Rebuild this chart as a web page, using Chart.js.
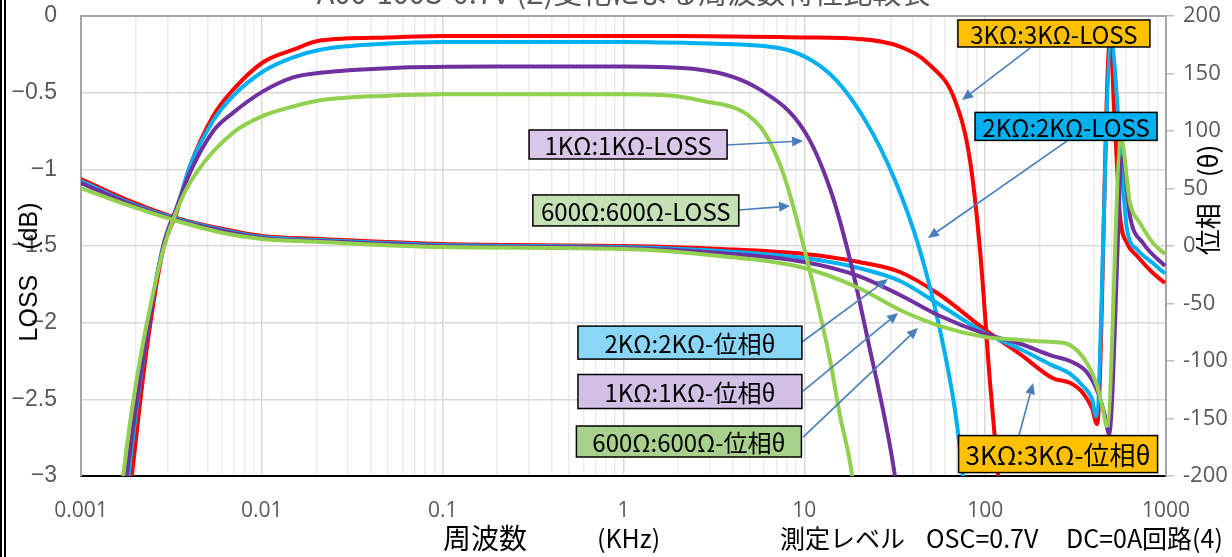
<!DOCTYPE html>
<html lang="ja">
<head>
<meta charset="utf-8">
<title>周波数特性比較表</title>
<script src="https://cdn.jsdelivr.net/npm/chart.js@4.4.1/dist/chart.umd.min.js"></script>
<style>
  html, body { margin: 0; padding: 0; background: #fff; }
  #wrap { width: 1232px; height: 557px; position: relative; }
</style>
</head>
<body>
<div id="wrap"><canvas id="freqChart"></canvas></div>
<script>
// frequency in kHz, LOSS in dB, phase in degrees
const loss600 = [[0.00165,-3.2],[0.00171,-3],[0.00273,-1.61],[0.00352,-1.22],[0.00436,-1.02],[0.00695,-0.76],[0.0102,-0.65],[0.0149,-0.59],[0.021,-0.55],[0.05,-0.52],[0.1,-0.51],[1,-0.51],[2.65,-0.55],[5.69,-0.72],[7.34,-0.97],[8.34,-1.17],[10.7,-1.66],[13.9,-2.25],[15.7,-2.6],[18.4,-3],[19.5,-3.3]];
const loss1k = [[0.00172,-3.2],[0.00179,-3],[0.0023,-2.1],[0.00285,-1.5],[0.0034,-1.24],[0.00401,-1.02],[0.00539,-0.75],[0.00695,-0.63],[0.0102,-0.49],[0.0149,-0.40],[0.021,-0.37],[0.05,-0.34],[0.2,-0.33],[1,-0.33],[2.65,-0.35],[5.69,-0.48],[10,-0.75],[13.9,-1.13],[17.9,-1.59],[23.1,-2.18],[27.9,-2.63],[31.7,-3],[34,-3.3]];
const loss2k = [[0.00176,-3.2],[0.00183,-3],[0.0023,-2.1],[0.00285,-1.5],[0.0034,-1.25],[0.004,-0.98],[0.0054,-0.68],[0.00695,-0.52],[0.0102,-0.36],[0.0149,-0.27],[0.021,-0.22],[0.05,-0.18],[0.1,-0.17],[1,-0.17],[3,-0.18],[7.34,-0.21],[13.9,-0.38],[21.7,-0.68],[31.7,-1.07],[43.6,-1.53],[56.3,-2.05],[68.1,-2.57],[75.4,-3],[80,-3.3]];
const loss3k = [[0.00183,-3.2],[0.00191,-3],[0.00231,-2.17],[0.00285,-1.52],[0.00338,-1.28],[0.00401,-0.98],[0.00539,-0.65],[0.00695,-0.48],[0.0102,-0.30],[0.0149,-0.22],[0.021,-0.16],[0.05,-0.14],[0.1,-0.13],[0.5,-0.13],[2,-0.13],[10,-0.14],[20,-0.15],[33.8,-0.2],[49.5,-0.32],[68.1,-0.55],[82.4,-0.94],[93.7,-1.53],[106,-2.37],[118,-3],[125,-3.3]];

const phase600 = [[0.001,50.4],[0.00187,34.8],[0.0034,21.7],[0.0061,11.3],[0.01,6.1],[0.021,3.5],[0.1,-0.9],[1,-2.6],[3.42,-8.7],[10,-19.1],[20,-36.5],[33.8,-55.7],[56.3,-69.6],[100,-79.1],[156,-81.7],[237,-83.5],[284,-85],[366,-102],[416,-122],[443,-139],[472,-156.5],[564,93],[632,37.4],[718,20],[847,2.6],[988,-7]];
const phase1k = [[0.001,54.8],[0.00187,36.5],[0.0034,22.6],[0.0061,13],[0.01,7],[0.021,4.3],[0.1,0],[1,-1.7],[3.42,-6.1],[10,-13.9],[20,-26.1],[33.8,-42.6],[56.3,-60.9],[100,-76.5],[156,-85],[237,-95.7],[294,-100],[366,-110],[422,-128],[460,-148],[484,-163.5],[578,78],[632,26],[746,2.6],[988,-17.4]];
const phase2k = [[0.001,56.5],[0.00187,37.4],[0.0034,23.5],[0.0061,13.9],[0.01,7.8],[0.021,5.2],[0.1,0.9],[1,-0.9],[3.42,-4.3],[10,-10.4],[20,-19.1],[33.8,-30.4],[56.3,-51.3],[100,-75.7],[156,-89.6],[237,-104],[294,-111],[348,-122],[390,-133],[410,-148],[497,177],[557,90],[608,15],[692,-3],[847,-15],[988,-24]];
const phase3k = [[0.001,58.3],[0.00187,39.1],[0.0034,24.3],[0.0061,14.8],[0.01,8.7],[0.021,6.1],[0.1,1.7],[1,0],[3.42,-2.6],[10,-7],[20,-13.9],[33.8,-22.6],[56.3,-42.6],[100,-73],[156,-94],[237,-115],[294,-119],[348,-128],[390,-141],[416,-155],[490,180],[522,104],[557,26],[608,2.6],[692,-8.7],[847,-23.5],[988,-32.2]];

const decades = [0.001, 0.01, 0.1, 1, 10, 100, 1000];
const lossTicks = [0, -0.5, -1, -1.5, -2, -2.5, -3];
const phaseTicks = [200, 150, 100, 50, 0, -50, -100, -150, -200];

const RED = "#ff0000", CYAN = "#00b0f0", PURPLE = "#7030a0", GREEN = "#92d050";

// callout boxes: centre and arrow given in kHz / dB
const callouts = [
    { text: "3KΩ:3KΩ-LOSS", fill: "#ffc000", f: 240, db: -0.114, w: 192, h: 27, size: 24, from: [177, -0.209], to: [74.5, -0.548] },
    { text: "2KΩ:2KΩ-LOSS", fill: "#00b0f0", f: 280, db: -0.72, w: 182, h: 28, size: 24, from: [284, -0.815], to: [48.3, -1.448] },
    { text: "1KΩ:1KΩ-LOSS", fill: "#d9c6e8", f: 1.06, db: -0.838, w: 198, h: 29, size: 24, from: [3.74, -0.841], to: [9.84, -0.815] },
    { text: "600Ω:600Ω-LOSS", fill: "#c5e0b4", f: 1.17, db: -1.268, w: 206, h: 31, size: 24, from: [4.35, -1.265], to: [8.34, -1.239] },
    { text: "2KΩ:2KΩ-位相θ", fill: "#8ad6f6", f: 2.33, db: -2.13, w: 224, h: 33, size: 24, from: [9.71, -2.126], to: [29.0, -1.715] },
    { text: "1KΩ:1KΩ-位相θ", fill: "#d3c0e6", f: 2.33, db: -2.449, w: 224, h: 34, size: 24, from: [9.84, -2.446], to: [33.0, -1.937] },
    { text: "600Ω:600Ω-位相θ", fill: "#a9d18e", f: 2.30, db: -2.775, w: 225, h: 31, size: 24, from: [9.84, -2.746], to: [42.5, -2.035] },
    { text: "3KΩ:3KΩ-位相θ", fill: "#ffc000", f: 253, db: -2.857, w: 199, h: 37, size: 26, from: [154, -2.733], to: [184, -2.394] }
];

function toXY(pairs) {
    return pairs.map(p => ({ x: p[0], y: p[1] }));
}

function isDecade(v) {
    const l = Math.log10(v);
    return Math.abs(l - Math.round(l)) < 1e-6;
}

function fmtDecade(v) {
    const e = Math.round(Math.log10(v));
    return e < 0 ? v.toFixed(-e) : String(Math.round(v));
}

// 1..9 x 10^n ticks like a spreadsheet log axis
const logTicks = [];
for (let i = 0; i < decades.length - 1; i++) {
    for (let m = 1; m <= 9; m++) {
        logTicks.push(Number((m * decades[i]).toPrecision(6)));
    }
}
logTicks.push(decades[decades.length - 1]);

function line(label, pairs, color, axis) {
    return {
        label: label,
        data: toXY(pairs),
        yAxisID: axis,
        borderColor: color,
        backgroundColor: color,
        borderWidth: 4,
        pointRadius: 0,
        fill: false,
        cubicInterpolationMode: "monotone"
    };
}

// drop the automatic half-label padding so the plot area lands where it should
function noPad(scale) {
    scale.paddingTop = 0;
    scale.paddingBottom = 0;
    scale.paddingLeft = 0;
    scale.paddingRight = 0;
}

function drawArrow(ctx, x1, y1, x2, y2) {
    const ang = Math.atan2(y2 - y1, x2 - x1);
    const len = 11, half = 5;
    const bx = x2 - len * Math.cos(ang), by = y2 - len * Math.sin(ang);
    ctx.strokeStyle = "#4a7ebb";
    ctx.fillStyle = "#4a7ebb";
    ctx.lineWidth = 1.6;
    ctx.beginPath();
    ctx.moveTo(x1, y1);
    ctx.lineTo(bx, by);
    ctx.stroke();
    ctx.beginPath();
    ctx.moveTo(x2, y2);
    ctx.lineTo(bx + half * Math.sin(ang), by - half * Math.cos(ang));
    ctx.lineTo(bx - half * Math.sin(ang), by + half * Math.cos(ang));
    ctx.closePath();
    ctx.fill();
}

const decorPlugin = {
    id: "decor",
    beforeDraw(chart) {
        const ctx = chart.ctx;
        ctx.save();
        ctx.fillStyle = "#fff";
        ctx.fillRect(0, 0, chart.width, chart.height);
        // frame at the left edge
        ctx.fillStyle = "#000";
        ctx.fillRect(0, 0, 2, chart.height);
        ctx.fillRect(4, 0, 2, chart.height);
        ctx.restore();
    },
    beforeDatasetsDraw(chart) {
        const ctx = chart.ctx, a = chart.chartArea;
        ctx.save();
        ctx.strokeStyle = "#a6a6a6";
        ctx.lineWidth = 2;
        ctx.beginPath();
        ctx.moveTo(a.left, a.bottom);
        ctx.lineTo(a.left, a.top);
        ctx.lineTo(a.right, a.top);
        ctx.lineTo(a.right, a.bottom);
        ctx.stroke();
        ctx.restore();
    },
    afterDraw(chart) {
        const ctx = chart.ctx, a = chart.chartArea;
        const xs = chart.scales.x, ys = chart.scales.yLoss;
        ctx.save();

        // callouts
        callouts.forEach(c => {
            drawArrow(ctx, xs.getPixelForValue(c.from[0]), ys.getPixelForValue(c.from[1]),
                xs.getPixelForValue(c.to[0]), ys.getPixelForValue(c.to[1]));
        });
        callouts.forEach(c => {
            const cx = xs.getPixelForValue(c.f), cy = ys.getPixelForValue(c.db);
            ctx.fillStyle = c.fill;
            ctx.fillRect(cx - c.w / 2, cy - c.h / 2, c.w, c.h);
            ctx.strokeStyle = "#000";
            ctx.lineWidth = 1.5;
            ctx.strokeRect(cx - c.w / 2, cy - c.h / 2, c.w, c.h);
            ctx.fillStyle = "#000";
            ctx.font = c.size + 'px "Noto Sans CJK JP"';
            ctx.textAlign = "center";
            ctx.textBaseline = "middle";
            ctx.fillText(c.text, cx, cy + 1);
        });

        // chart title, cut off by the top edge
        ctx.fillStyle = "#595959";
        ctx.font = '29px "Noto Sans CJK JP"';
        ctx.textAlign = "center";
        ctx.textBaseline = "alphabetic";
        ctx.fillText("A00-100S-0.7V (Z)変化による周波数特性比較表", (a.left + a.right) / 2, 4);

        // x axis title pieces
        ctx.fillStyle = "#000";
        ctx.textAlign = "left";
        ctx.textBaseline = "middle";
        ctx.font = '28px "Noto Sans CJK JP"';
        ctx.fillText("周波数", 443, 538);
        ctx.font = '25px "Noto Sans CJK JP"';
        ctx.fillText("(KHz)", 597, 538);
        ctx.fillText("測定レベル", 780, 538);
        ctx.fillText("OSC=0.7V", 926, 538);
        ctx.fillText("DC=0A回路(4)", 1066, 538);

        // left axis title
        ctx.save();
        ctx.translate(30, 272);
        ctx.rotate(-Math.PI / 2);
        ctx.textAlign = "center";
        ctx.font = '25px "Liberation Sans"';
        ctx.fillText("LOSS\u3000(dB)", 0, 0);
        ctx.restore();

        // right axis title
        ctx.save();
        ctx.translate(1208, 200);
        ctx.rotate(-Math.PI / 2);
        ctx.textAlign = "center";
        ctx.font = '26px "Noto Sans CJK JP"';
        ctx.fillText("位相\u3000(θ)", 0, 0);
        ctx.restore();

        ctx.restore();
    }
};

const ctx = document.getElementById("freqChart").getContext("2d");
const freqChart = new Chart(ctx, {
    type: "line",
    data: {
        datasets: [
            line("600Ω:600Ω-LOSS", loss600, GREEN, "yLoss"),
            line("600Ω:600Ω-位相θ", phase600, GREEN, "yPhase"),
            line("1KΩ:1KΩ-LOSS", loss1k, PURPLE, "yLoss"),
            line("1KΩ:1KΩ-位相θ", phase1k, PURPLE, "yPhase"),
            line("2KΩ:2KΩ-LOSS", loss2k, CYAN, "yLoss"),
            line("2KΩ:2KΩ-位相θ", phase2k, CYAN, "yPhase"),
            line("3KΩ:3KΩ-LOSS", loss3k, RED, "yLoss"),
            line("3KΩ:3KΩ-位相θ", phase3k, RED, "yPhase")
        ]
    },
    options: {
        responsive: true,
        maintainAspectRatio: false,
        animation: false,
        layout: { padding: { top: 16, left: 0, right: 0, bottom: 0 } },
        plugins: {
            legend: { display: false },
            tooltip: { enabled: false }
        },
        scales: {
            x: {
                type: "logarithmic",
                min: decades[0],
                max: decades[decades.length - 1],
                afterBuildTicks: (scale) => {
                    scale.ticks = logTicks.map(v => ({ value: v, major: isDecade(v) }));
                },
                afterFit: (scale) => { scale.height = 81; noPad(scale); },
                grid: {
                    drawTicks: false,
                    color: (c) => (c.tick && isDecade(c.tick.value)) ? "#d9d9d9" : "#ececec",
                    lineWidth: 1.5
                },
                border: { color: "#000", width: 2 },
                ticks: {
                    autoSkip: false,
                    maxRotation: 0,
                    padding: 22,
                    color: "#595959",
                    font: { family: '"Open Sans"', size: 21 },
                    callback: (v) => isDecade(v) ? fmtDecade(v) : ""
                }
            },
            yLoss: {
                type: "linear",
                position: "left",
                min: lossTicks[lossTicks.length - 1],
                max: lossTicks[0],
                afterFit: (scale) => { scale.width = 81; noPad(scale); },
                grid: { color: "#d9d9d9", lineWidth: 1.5, drawTicks: false },
                border: { color: "#a6a6a6", width: 2 },
                ticks: {
                    stepSize: 0.5,
                    padding: 24,
                    color: "#595959",
                    font: { family: '"Liberation Sans"', size: 23 },
                    callback: (v) => v === 0 ? "0" : "\u2212" + Math.abs(v)
                }
            },
            yPhase: {
                type: "linear",
                position: "right",
                min: phaseTicks[phaseTicks.length - 1],
                max: phaseTicks[0],
                afterFit: (scale) => { scale.width = 66; noPad(scale); },
                grid: { drawOnChartArea: false, tickLength: 8, color: "#bfbfbf", lineWidth: 1.5 },
                border: { color: "#a6a6a6", width: 2 },
                ticks: {
                    stepSize: 50,
                    padding: 9,
                    color: "#595959",
                    font: { family: '"Open Sans"', size: 22 },
                    callback: (v) => String(v)
                }
            }
        }
    },
    plugins: [decorPlugin]
});
</script>
</body>
</html>
